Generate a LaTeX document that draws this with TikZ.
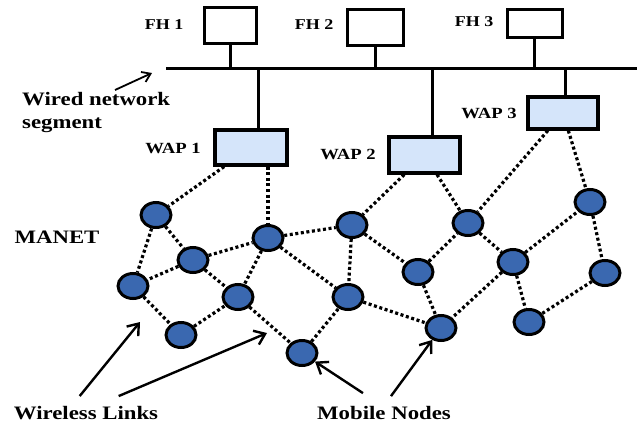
\documentclass[tikz,border=0pt]{standalone}
\usepackage{fontspec}
\setmainfont{Liberation Serif}[FakeStretch=1.2]
\usepackage{tikz}
\usetikzlibrary{arrows.meta,shapes.geometric,positioning}

\definecolor{nodeblue}{HTML}{3A68B0}
\definecolor{wapblue}{HTML}{D5E5FA}

\tikzset{
  fhbox/.style={draw,line width=3pt,fill=white,inner sep=0pt},
  wapbox/.style={draw,line width=3.2pt,fill=wapblue,inner sep=0pt},
  mnode/.style={ellipse,draw,line width=3pt,fill=nodeblue,minimum width=30pt,minimum height=25pt,inner sep=0pt},
  wlink/.style={line width=3.2pt,dash pattern=on 3pt off 2.6pt},
  wire/.style={line width=3pt},
  lbl/.style={font=\bfseries\fontsize{15}{17}\selectfont,inner sep=0pt},
  biglbl/.style={font=\bfseries\fontsize{19}{23}\selectfont,inner sep=0pt},
  pointer/.style={line width=2.4pt,-{Straight Barb[length=10pt,width=15pt,line width=2.4pt]}}
}

\begin{document}
\begin{tikzpicture}[x=1pt,y=-1pt]
          \useasboundingbox (0,0) rectangle (637,434);

          % Draw the fixed hosts and the bus
          \node[fhbox,minimum width=52pt,minimum height=36pt] (fh1) at (230,25) {};
          \node[fhbox,minimum width=56pt,minimum height=36pt] (fh2) at (375,27) {};
          \node[fhbox,minimum width=55pt,minimum height=28pt] (fh3) at (534.5,23) {};
          \coordinate (busL) at (166,68);
          \coordinate (busR) at (637,68);
          \draw[wire] (busL) -- (busR);
          \draw[wire] (fh1) -- (fh1 |- busL);
          \draw[wire] (fh2) -- (fh2 |- busL);
          \draw[wire] (fh3) -- (fh3 |- busL);

          % Draw the access points
          \coordinate (b1) at (258,68);
          \coordinate (b2) at (432,68);
          \coordinate (b3) at (565,68);
          \draw[wire] (b1) -- ++(0,64);
          \draw[wire] (b2) -- ++(0,71);
          \draw[wire] (b3) -- ++(0,31);
          \node[wapbox,minimum width=72pt,minimum height=35pt] (wap1) at (251,147.5) {};
          \node[wapbox,minimum width=71pt,minimum height=36pt] (wap2) at (424.5,155) {};
          \node[wapbox,minimum width=70pt,minimum height=32pt] (wap3) at (563,113) {};

          % Draw the mobile nodes
          \node[mnode] (m1) at (156,215) {};
          \node[mnode] (m2) at (268,238) {};
          \node[mnode] (m3) at (193,260) {};
          \node[mnode] (m4) at (133,286) {};
          \node[mnode] (m5) at (238,297) {};
          \node[mnode] (m6) at (181,335) {};
          \node[mnode] (m7) at (302,353) {};
          \node[mnode] (m8) at (352,225) {};
          \node[mnode] (m9) at (468,223) {};
          \node[mnode] (m10) at (590,202) {};
          \node[mnode] (m11) at (418,272) {};
          \node[mnode] (m12) at (513,262) {};
          \node[mnode] (m13) at (605,273) {};
          \node[mnode] (m14) at (348,297) {};
          \node[mnode] (m15) at (441,328) {};
          \node[mnode] (m16) at (529,322) {};

          % Draw the wireless links
          \draw[wlink] (wap1) -- (m1);
          \draw[wlink] (wap1.south -| m2) -- (m2);
          \draw[wlink] (wap2) -- (m8);
          \draw[wlink] (wap2) -- (m9);
          \draw[wlink] (wap3) -- (m9);
          \draw[wlink] (wap3) -- (m10);
          \draw[wlink] (m1) -- (m3);
          \draw[wlink] (m1) -- (m4);
          \draw[wlink] (m3) -- (m2);
          \draw[wlink] (m3) -- (m4);
          \draw[wlink] (m3) -- (m5);
          \draw[wlink] (m2) -- (m5);
          \draw[wlink] (m2) -- (m8);
          \draw[wlink] (m2) -- (m14);
          \draw[wlink] (m4) -- (m6);
          \draw[wlink] (m6) -- (m5);
          \draw[wlink] (m5) -- (m7);
          \draw[wlink] (m7) -- (m14);
          \draw[wlink] (m8) -- (m11);
          \draw[wlink] (m8) -- (m14);
          \draw[wlink] (m11) -- (m9);
          \draw[wlink] (m11) -- (m15);
          \draw[wlink] (m9) -- (m12);
          \draw[wlink] (m12) -- (m10);
          \draw[wlink] (m12) -- (m15);
          \draw[wlink] (m12) -- (m16);
          \draw[wlink] (m14) -- (m15);
          \draw[wlink] (m10) -- (m13);
          \draw[wlink] (m13) -- (m16);

          % Labels
          \node[lbl] (lfh1) at (164,25) {FH 1};
          \node[lbl] (lfh2) at (314,25) {FH 2};
          \node[lbl] (lfh3) at (474,22) {FH 3};
          \node[lbl,font=\bfseries\fontsize{15.5}{17}\selectfont] (lwap1) at (173,148) {WAP 1};
          \node[lbl,font=\bfseries\fontsize{15.5}{17}\selectfont] (lwap2) at (348,154) {WAP 2};
          \node[lbl,font=\bfseries\fontsize{15.5}{17}\selectfont] (lwap3) at (489,113) {WAP 3};
          \node[biglbl,anchor=west,align=left] (lwired) at (22,113) {Wired network\\segment};
          \node[biglbl] (lmanet) at (57,237) {MANET};
          \node[biglbl] (llinks) at (86,413) {Wireless Links};
          \node[biglbl] (lmobile) at (384,413) {Mobile Nodes};

          % Pointers
          \coordinate (wp) at (152,73);
          \draw[line width=1.8pt,-{Straight Barb[length=8pt,width=11pt,line width=1.8pt]}] (115,90) -- (wp);
          \coordinate (lk1) at (140,322);
          \coordinate (lk2) at (267,333);
          \draw[pointer] (llinks.north west) ++(66,-10) coordinate (lka) -- (lk1);
          \draw[pointer] (llinks.north west) ++(105,-10) coordinate (lkb) -- (lk2);
          \draw[pointer] (lmobile.north west) ++(46,-13) -- (m7);
          \draw[pointer] (lmobile.north west) ++(74,-10) -- (m15);
\end{tikzpicture}
\end{document}
